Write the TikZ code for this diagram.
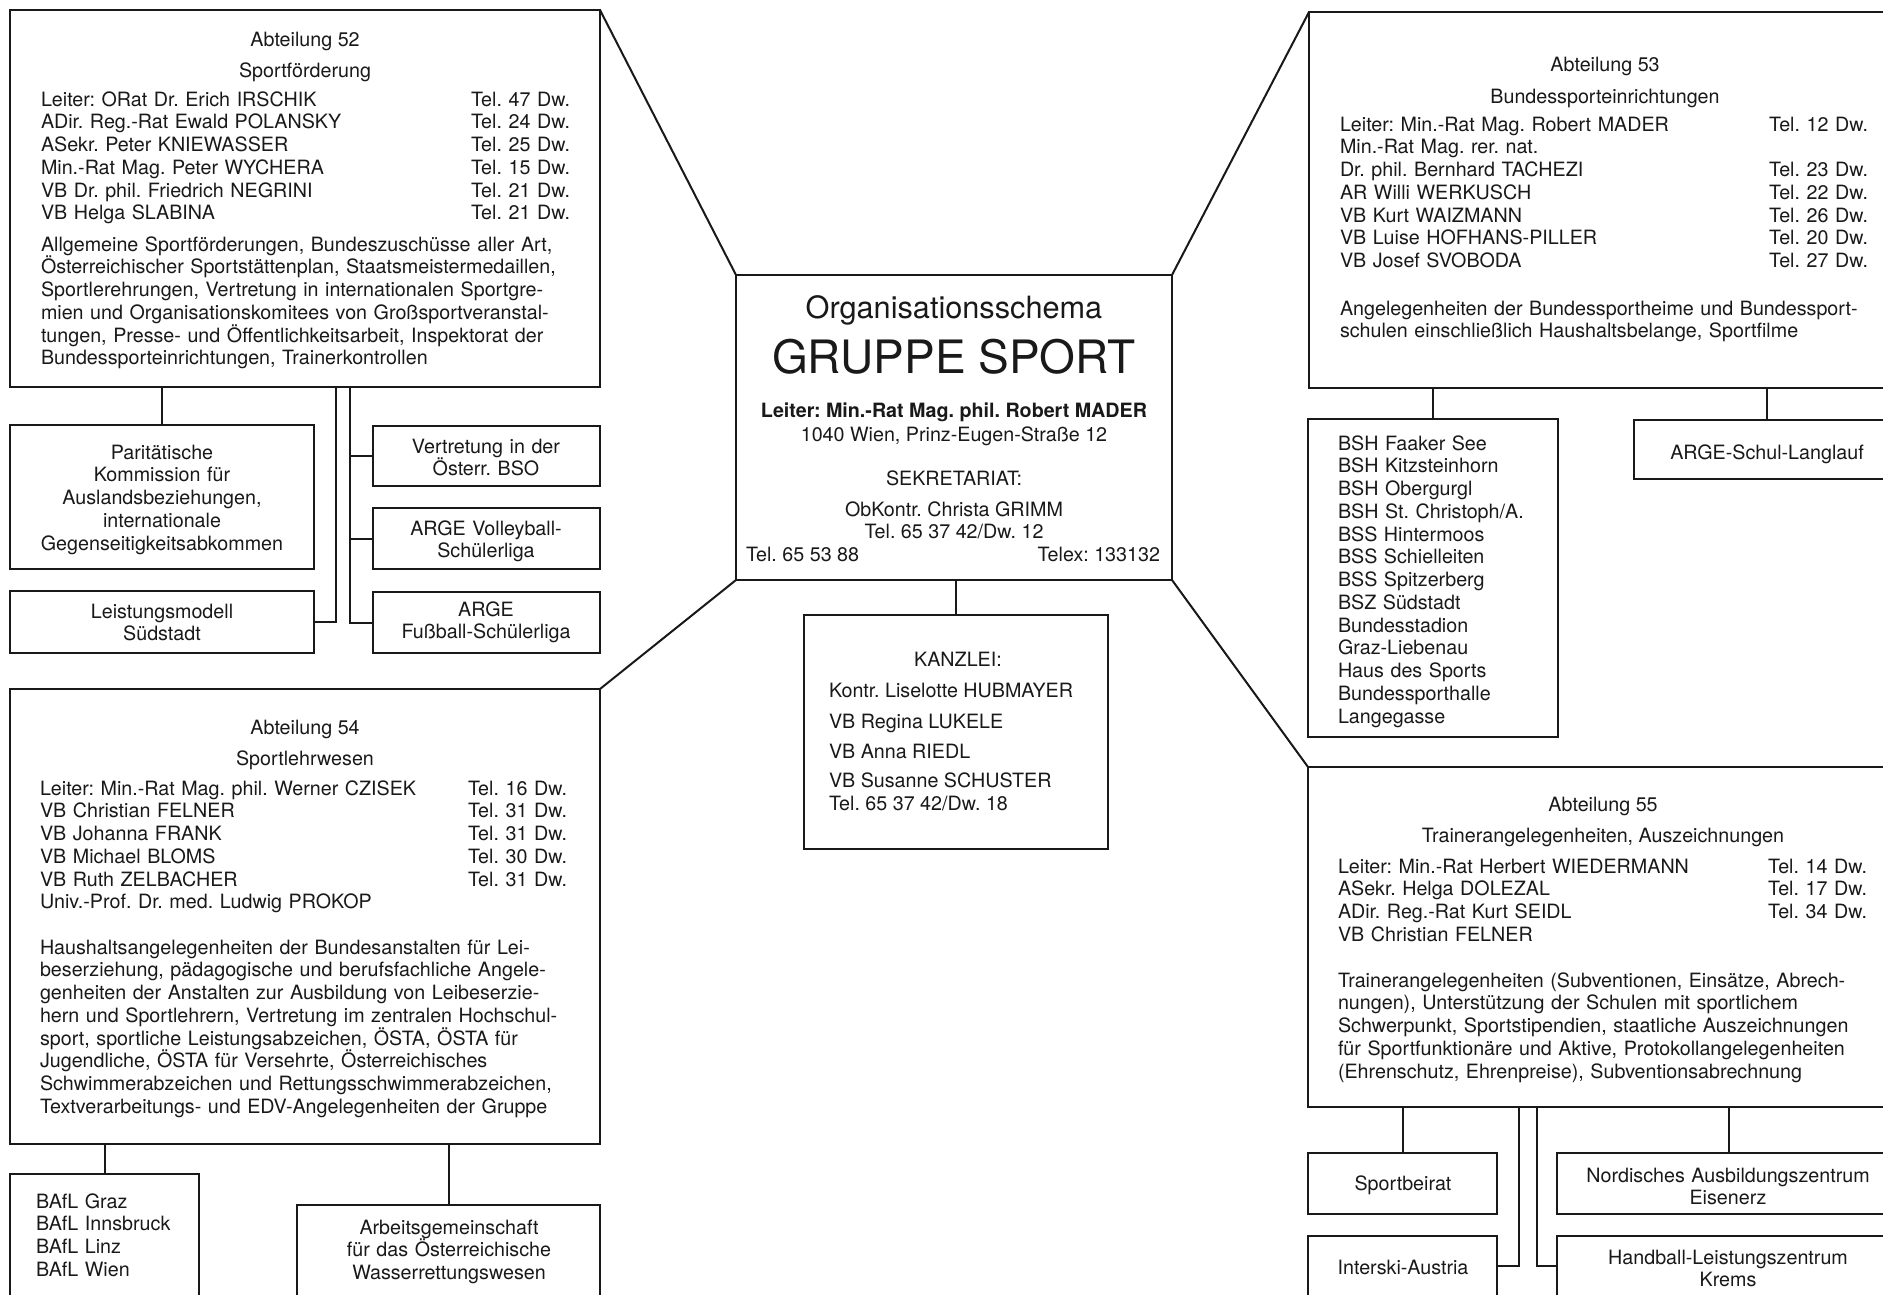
\documentclass[tikz,border=0pt]{standalone}
\usepackage{fontspec}
\setmainfont{TeX Gyre Heros}
\usetikzlibrary{calc}
\frenchspacing
\newcommand{\jl}[1]{\makebox[\linewidth][s]{#1}}
\newcommand{\mybox}[5]{\node[box, minimum width=#4-#2, minimum height=#5-#3] (#1) at (#2,#3) {};}
\tikzset{
  box/.style={draw=black!90, line width=2pt, inner sep=0pt, outer sep=0pt, anchor=north west},
  conn/.style={draw=black!90, line width=2pt},
  txt/.style={inner sep=0pt, outer sep=0pt, text=black!90, font=\fontsize{19.7}{22.75}\selectfont\frenchspacing},
  ctext/.style={txt, anchor=base},
  ltext/.style={txt, anchor=base west},
  rtext/.style={txt, anchor=base east},
  lst/.style={txt, anchor=base west, text width=#1, align=left},
  rlst/.style={txt, anchor=base east, text width=#1, align=right},
  clst/.style={txt, anchor=base, text width=#1, align=center},
}
\begin{document}
\begin{tikzpicture}[x=1pt, y=-1pt]
\useasboundingbox (0,0) rectangle (1883,1294);
\fill[white] (0,0) rectangle (1883,1294);
\clip (0,0) rectangle (1883,1294);

% ---------- boxes ----------
\mybox{b52}{10}{10}{600}{387}
\mybox{par}{10}{425}{314}{569}
\mybox{leis}{10}{591}{314}{653}
\mybox{vert}{373}{426}{600}{486}
\mybox{volley}{373}{508}{600}{569}
\mybox{fuss}{373}{592}{600}{653}
\mybox{b54}{10}{689}{600}{1144}
\mybox{bafl}{10}{1174}{199}{1310}
\mybox{arbg}{297}{1205}{600}{1310}
\mybox{ctr}{736}{275}{1172}{580}
\mybox{kanz}{804}{615}{1108}{849}
\mybox{b53}{1309}{12}{1900}{388}
\mybox{bsh}{1308}{419}{1558}{737}
\mybox{schul}{1634}{420}{1900}{479}
\mybox{b55}{1308}{767}{1900}{1107}
\mybox{beirat}{1308}{1153}{1497}{1214}
\mybox{inter}{1308}{1236}{1497}{1310}
\mybox{nord}{1557}{1153}{1900}{1214}
\mybox{hand}{1557}{1236}{1900}{1310}

% ---------- connectors ----------
\draw[conn] (b52.north east) -- (ctr.north west);
\draw[conn] (b53.north west) -- (ctr.north east);
\draw[conn] (ctr.south west) -- (b54.north east);
\draw[conn] (ctr.south east) -- (b55.north west);
\draw[conn] (kanz.north) -- (kanz.north |- ctr.south);

\draw[conn] (par.north) -- (par.north |- b52.south);
\coordinate (k1) at (336,622);
\coordinate (k2) at (350,622);
\draw[conn] (k1 |- b52.south) -- (k1 |- leis.east) -- (leis.east);
\draw[conn] (k2 |- b52.south) -- (k2 |- fuss.west) -- (fuss.west);
\draw[conn] (k2 |- vert.west) -- (vert.west);
\draw[conn] (k2 |- volley.west) -- (volley.west);

\draw[conn] (bafl.north) -- (bafl.north |- b54.south);
\draw[conn] (arbg.north) -- (arbg.north |- b54.south);

\draw[conn] (bsh.north) -- (bsh.north |- b53.south);
\draw[conn] (schul.north) -- (schul.north |- b53.south);

\draw[conn] (beirat.north) -- (beirat.north |- b55.south);
\draw[conn] (nord.north) -- (nord.north |- b55.south);
\coordinate (m1) at (1519,1266);
\coordinate (m2) at (1537,1266);
\draw[conn] (m1 |- b55.south) -- (m1) -- (inter.east |- m1);
\draw[conn] (m2 |- b55.south) -- (m2) -- (hand.west |- m2);

% ---------- Abteilung 52 ----------
\node[ctext] (t52a) at (305,46) {Abteilung 52};
\node[ctext] (t52b) at (305,77) {Sportförderung};
\node[lst=400] (t52n) at (41,106) {Leiter: ORat Dr. Erich IRSCHIK\\ADir. Reg.-Rat Ewald POLANSKY\\ASekr. Peter KNIEWASSER\\Min.-Rat Mag. Peter WYCHERA\\VB Dr. phil. Friedrich NEGRINI\\VB Helga SLABINA};
\node[rlst=120] (t52t) at (570,106) {Tel. 47 Dw.\\Tel. 24 Dw.\\Tel. 25 Dw.\\Tel. 15 Dw.\\Tel. 21 Dw.\\Tel. 21 Dw.};
\node[lst=529] (t52p) at (41,251) {\jl{Allgemeine Sportförderungen, Bundeszuschüsse aller Art,}\\\jl{Österreichischer Sportstättenplan, Staatsmeistermedaillen,}\\\jl{Sportlerehrungen, Vertretung in internationalen Sportgre-}\\\jl{mien und Organisationskomitees von Großsportveranstal-}\\\jl{tungen, Presse- und Öffentlichkeitsarbeit, Inspektorat der}\\\mbox{Bundessporteinrichtungen, Trainerkontrollen}};

\node[clst=300] (tpar) at (162,459) {Paritätische\\Kommission für\\Auslandsbeziehungen,\\internationale\\Gegenseitigkeitsabkommen};
\node[clst=300] (tleis) at (162,618) {Leistungsmodell\\Südstadt};
\node[clst=220] (tvert) at (486,453) {Vertretung in der\\Österr. BSO};
\node[clst=220] (tvolley) at (486,535) {ARGE Volleyball-\\Schülerliga};
\node[clst=220] (tfuss) at (486,616) {ARGE\\Fußball-Schülerliga};

% ---------- Abteilung 54 ----------
\node[ctext] (t54a) at (305,734) {Abteilung 54};
\node[ctext] (t54b) at (305,765) {Sportlehrwesen};
\node[lst=420] (t54n) at (40,795) {Leiter: Min.-Rat Mag. phil. Werner CZISEK\\VB Christian FELNER\\VB Johanna FRANK\\VB Michael BLOMS\\VB Ruth ZELBACHER\\Univ.-Prof. Dr. med. Ludwig PROKOP};
\node[rlst=120] (t54t) at (567,795) {Tel. 16 Dw.\\Tel. 31 Dw.\\Tel. 31 Dw.\\Tel. 30 Dw.\\Tel. 31 Dw.};
\node[lst=527] (t54p) at (40,954) {\jl{Haushaltsangelegenheiten der Bundesanstalten für Lei-}\\\jl{beserziehung, pädagogische und berufsfachliche Angele-}\\\jl{genheiten der Anstalten zur Ausbildung von Leibeserzie-}\\\jl{hern und Sportlehrern, Vertretung im zentralen Hochschul-}\\\jl{sport, sportliche Leistungsabzeichen, ÖSTA, ÖSTA für}\\\jl{Jugendliche, ÖSTA für Versehrte, Österreichisches}\\\jl{Schwimmerabzeichen und Rettungsschwimmerabzeichen,}\\\mbox{Textverarbeitungs- und EDV-Angelegenheiten der Gruppe}};

\node[lst=160] (tbafl) at (36,1208) {BAfL Graz\\BAfL Innsbruck\\BAfL Linz\\BAfL Wien};
\node[clst=290] (tarbg) at (449,1234) {Arbeitsgemeinschaft\\für das Österreichische\\Wasserrettungswesen};

% ---------- centre ----------
\node[txt, anchor=base, font=\fontsize{30.7}{34}\selectfont] (tctr1) at (954,318) {Organisationsschema};
\node[txt, anchor=base, font=\fontsize{46}{50}\selectfont] (tctr2) at (954,373) {GRUPPE SPORT};
\node[ctext, font=\fontsize{19.7}{22.75}\selectfont\bfseries] (tctr3) at (954,417) {Leiter: Min.-Rat Mag. phil. Robert MADER};
\node[ctext] (tctr4) at (954,441) {1040 Wien, Prinz-Eugen-Straße 12};
\node[ctext] (tctr5) at (954,485) {SEKRETARIAT:};
\node[ctext] (tctr6) at (954,516) {ObKontr. Christa GRIMM};
\node[ctext] (tctr7) at (954,538) {Tel. 65 37 42/Dw. 12};
\node[ltext] (tctr8) at (746,561) {Tel. 65 53 88};
\node[rtext] (tctr9) at (1160,561) {Telex: 133132};

\node[ctext] (tk0) at (958,666) {KANZLEI:};
\node[ltext] (tk1) at (829,697) {Kontr. Liselotte HUBMAYER};
\node[ltext] (tk2) at (829,728) {VB Regina LUKELE};
\node[ltext] (tk3) at (829,758) {VB Anna RIEDL};
\node[ltext] (tk4) at (829,787) {VB Susanne SCHUSTER};
\node[ltext] (tk5) at (829,810) {Tel. 65 37 42/Dw. 18};

% ---------- Abteilung 53 ----------
\node[ctext] (t53a) at (1605,71) {Abteilung 53};
\node[ctext] (t53b) at (1605,103) {Bundessporteinrichtungen};
\node[lst=400] (t53n) at (1340,131) {Leiter: Min.-Rat Mag. Robert MADER\\Min.-Rat Mag. rer. nat.\\Dr. phil. Bernhard TACHEZI\\AR Willi WERKUSCH\\VB Kurt WAIZMANN\\VB Luise HOFHANS-PILLER\\VB Josef SVOBODA};
\node[rlst=120] (t53t) at (1868,131) {Tel. 12 Dw.\\\mbox{}\\Tel. 23 Dw.\\Tel. 22 Dw.\\Tel. 26 Dw.\\Tel. 20 Dw.\\Tel. 27 Dw.};
\node[lst=528] (t53p) at (1340,315) {\jl{Angelegenheiten der Bundessportheime und Bundessport-}\\\mbox{schulen einschließlich Haushaltsbelange, Sportfilme}};

\node[lst=220] (tbsh) at (1338,450) {BSH Faaker See\\BSH Kitzsteinhorn\\BSH Obergurgl\\BSH St. Christoph/A.\\BSS Hintermoos\\BSS Schielleiten\\BSS Spitzerberg\\BSZ Südstadt\\Bundesstadion\\Graz-Liebenau\\Haus des Sports\\Bundessporthalle\\Langegasse};
\node[ctext] (tschul) at (1767,459) {ARGE-Schul-Langlauf};

% ---------- Abteilung 55 ----------
\node[ctext] (t55a) at (1603,811) {Abteilung 55};
\node[ctext] (t55b) at (1603,842) {Trainerangelegenheiten, Auszeichnungen};
\node[lst=420] (t55n) at (1338,873) {Leiter: Min.-Rat Herbert WIEDERMANN\\ASekr. Helga DOLEZAL\\ADir. Reg.-Rat Kurt SEIDL\\VB Christian FELNER};
\node[rlst=120] (t55t) at (1867,873) {Tel. 14 Dw.\\Tel. 17 Dw.\\Tel. 34 Dw.};
\node[lst=529] (t55p) at (1338,987) {\jl{Trainerangelegenheiten (Subventionen, Einsätze, Abrech-}\\\jl{nungen), Unterstützung der Schulen mit sportlichem}\\\jl{Schwerpunkt, Sportstipendien, staatliche Auszeichnungen}\\\jl{für Sportfunktionäre und Aktive, Protokollangelegenheiten}\\\mbox{(Ehrenschutz, Ehrenpreise), Subventionsabrechnung}};

\node[ctext] (tbeirat) at (1403,1190) {Sportbeirat};
\node[ctext] (tinter) at (1403,1274) {Interski-Austria};
\node[clst=330] (tnord) at (1728,1182) {Nordisches Ausbildungszentrum\\Eisenerz};
\node[clst=330] (thand) at (1728,1264) {Handball-Leistungszentrum\\Krems};
\end{tikzpicture}
\end{document}
